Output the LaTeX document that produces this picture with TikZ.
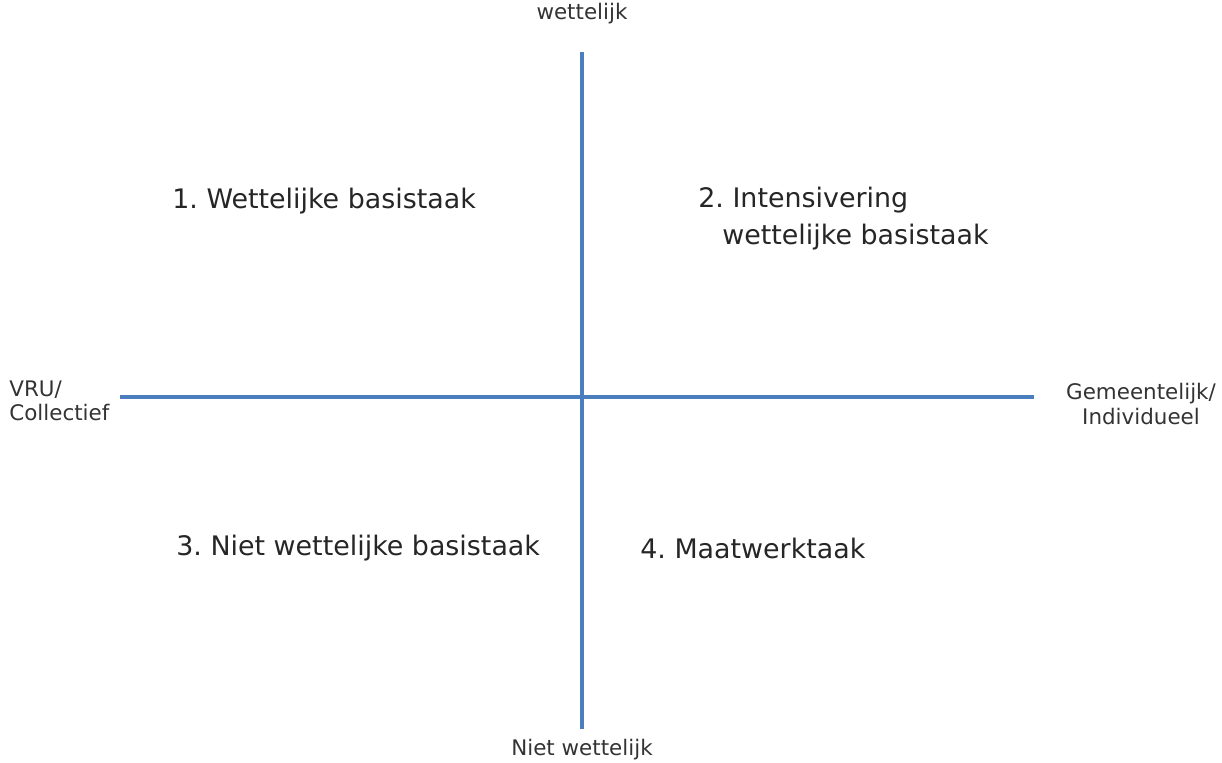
\documentclass[tikz,border=0pt]{standalone}
\usepackage{fontspec}
\setmainfont{DejaVu Sans}
\usepackage{xcolor}
\usetikzlibrary{positioning}
\definecolor{asblauw}{HTML}{4A7EBF}
\frenchspacing

\begin{document}
\begin{tikzpicture}[x=0.02cm,y=-0.02cm]
	\tikzstyle{as}=[draw=asblauw,line width=2.8pt]
	\tikzstyle{aslabel}=[font=\fontsize{12.2}{13.8}\selectfont,text=black!80,inner sep=0pt]
	\tikzstyle{kwadrant}=[font=\fontsize{15.3}{21}\selectfont,text=black!85,inner sep=0pt,anchor=west,align=left]
	\useasboundingbox (0,0) rectangle (1222,762);

	\coordinate (boven) at (582,52);
	\coordinate (onder) at (582,729);
	\coordinate (links) at (120,397);
	\coordinate (rechts) at (1034,397);

	\draw[as] (boven) -- (onder);
	\draw[as] (links) -- (rechts);

	\node[aslabel](wet) at (582,14){wettelijk};
	\node[aslabel](nietwet) at (582,750){Niet wettelijk};
	\node[aslabel,align=left,anchor=west](vru) at (9,401){VRU/\\Collectief};
	\node[aslabel,align=center](gem) at (1141,404){Gemeentelijk/\\Individueel};

	\node[kwadrant](k1) at (172,201){1. Wettelijke basistaak};
	\node[kwadrant](k2) at (698,219){2. Intensivering\\\hspace*{0.48cm}wettelijke basistaak};
	\node[kwadrant](k3) at (176,548){3. Niet wettelijke basistaak};
	\node[kwadrant](k4) at (640,548){4. Maatwerktaak};
\end{tikzpicture}
\end{document}
